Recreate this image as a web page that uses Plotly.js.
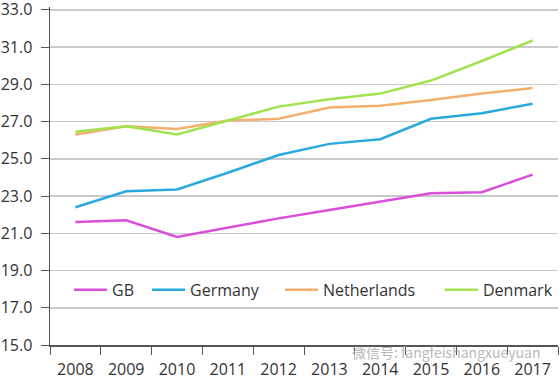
<!DOCTYPE html>
<html>
<head>
<meta charset="utf-8">
<script src="https://cdn.plot.ly/plotly-3.0.1.min.js"></script>
<style>html,body{margin:0;padding:0;background:#fff;}#chart{width:560px;height:379px;}</style>
</head>
<body>
<div id="chart"></div>
<script>
const years = ["2008","2009","2010","2011","2012","2013","2014","2015","2016","2017"];
const gb = [21.6, 21.7, 20.8, 21.3, 21.8, 22.25, 22.7, 23.15, 23.2, 24.15];
const germany = [22.4, 23.25, 23.35, 24.25, 25.2, 25.8, 26.05, 27.15, 27.45, 27.95];
const netherlands = [26.3, 26.75, 26.6, 27.05, 27.15, 27.75, 27.85, 28.15, 28.5, 28.8];
const denmark = [26.45, 26.75, 26.3, 27.05, 27.8, 28.2, 28.5, 29.2, 30.25, 31.35];
const seriesNames = ["GB", "Germany", "Netherlands", "Denmark"];
const seriesColors = ["#d94fd9", "#2aaadc", "#f3b06c", "#a2e24f"];
const seriesData = [gb, germany, netherlands, denmark];
const yTicks = [15, 17, 19, 21, 23, 25, 27, 29, 31, 33];

const legendIds = ["legend", "legend2", "legend3", "legend4"];
const legendX = [0.0374, 0.191, 0.4528, 0.7677];

const traces = seriesData.map((vals, i) => ({
  type: "scatter",
  mode: "lines",
  x: years,
  y: vals,
  name: seriesNames[i],
  legend: legendIds[i],
  line: {color: seriesColors[i], width: 2.5}
}));

const layout = {
  width: 560,
  height: 379,
  margin: {l: 50, r: 2, t: 7, b: 34},
  paper_bgcolor: "#fff",
  plot_bgcolor: "#fff",
  font: {family: "Open Sans, sans-serif", size: 16, color: "#333"},
  showlegend: true,
  xaxis: {
    type: "category",
    range: [-0.5, 9.5],
    tickson: "boundaries",
    ticks: "outside",
    ticklen: 8,
    tickcolor: "#555",
    ticklabelstandoff: 9,
    showline: true,
    linecolor: "#555",
    linewidth: 1.5,
    showgrid: false,
    fixedrange: true
  },
  yaxis: {
    range: [15, 33.15],
    tickvals: yTicks,
    tickformat: ".1f",
    ticks: "outside",
    ticklen: 8,
    tickcolor: "#555",
    ticklabelstandoff: 5,
    ticklabeloverflow: "allow",
    showline: true,
    linecolor: "#555",
    linewidth: 1.5,
    showgrid: true,
    gridcolor: "#c9c9c9",
    gridwidth: 1.5,
    zeroline: false,
    fixedrange: true
  },
  annotations: [{
    xref: "paper", yref: "paper",
    x: 0.9685, y: -0.022,
    xanchor: "right", yanchor: "middle",
    text: "微信号: fangfeishangxueyuan",
    showarrow: false,
    font: {family: "Noto Sans CJK SC, sans-serif", size: 14, color: "rgba(160,160,160,0.75)"}
  }]
};

legendIds.forEach((id, i) => {
  layout[id] = {
    orientation: "h",
    x: legendX[i], xanchor: "left",
    y: 0.163, yanchor: "middle",
    itemwidth: 33,
    bgcolor: "rgba(0,0,0,0)",
    font: {size: 16, color: "#333"}
  };
});

Plotly.newPlot("chart", traces, layout, {displayModeBar: false, staticPlot: true});
</script>
</body>
</html>
